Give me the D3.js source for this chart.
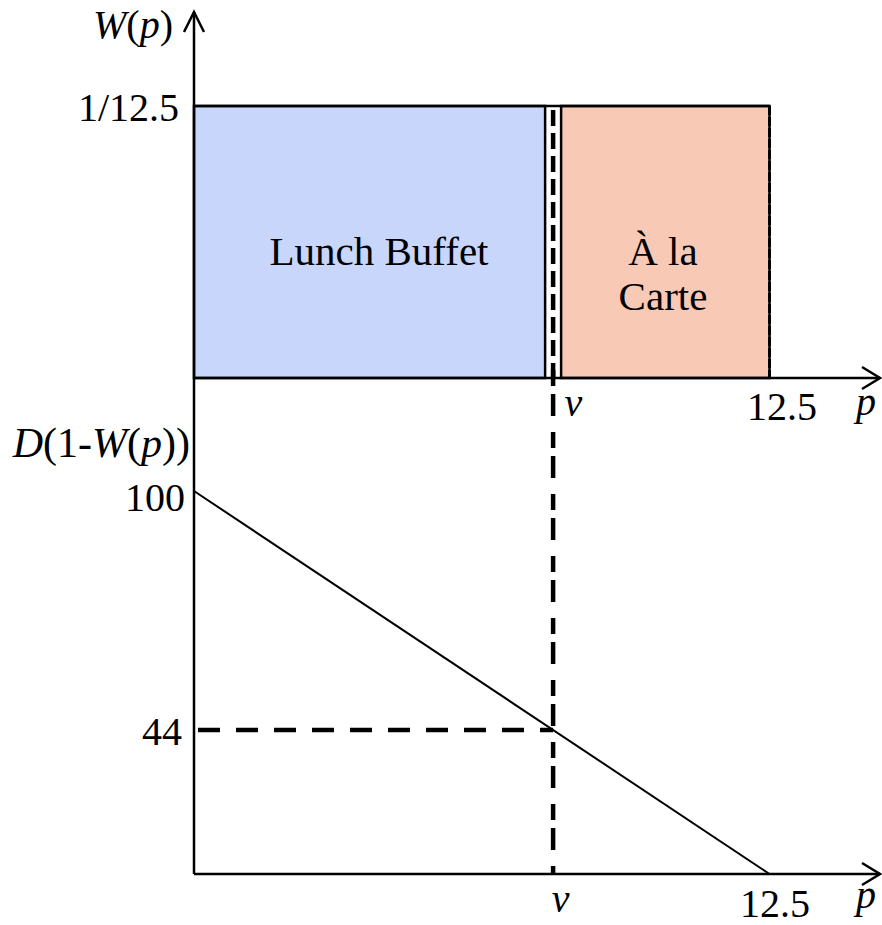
<!DOCTYPE html>
<html>
<head>
<meta charset="utf-8">
<script src="https://cdn.jsdelivr.net/npm/d3@7"></script>
<style>
  body { margin: 0; background: #ffffff; }
  svg text { font-family: 'Liberation Serif', 'Times New Roman', serif; fill: #000; }
</style>
</head>
<body>
<div id="chart"></div>
<script>
// data
var pMax = 12.5;
var vPos = 7.8;                       // where v sits on the p axis
var wMax = 1 / 12.5;
var demand = [[0, 100], [12.5, 0]];  // D(1-W(p))
var regions = [
    { name: ['Lunch Buffet'], from: 0, to: vPos, fill: '#c8d6fc' },
    { name: ['À la', 'Carte'], from: vPos, to: pMax, fill: '#f8c9b5' }
];
var topXTicks = [vPos, pMax];
var topXLabels = ['v', '12.5'];
var topYTicks = [wMax];
var topYLabels = ['1/12.5'];
var botXTicks = [vPos, pMax];
var botXLabels = ['v', '12.5'];
var botYTicks = [100, 100 * (1 - vPos / pMax)];
var botYLabels = ['100', '44'];

var _width = 882, _height = 925;
var _fontSize = 40;
var _gap = 8; // white gap each side of v in the top panel

var svg = d3.select('#chart').append('svg')
    .attr('width', _width)
    .attr('height', _height);

var x = d3.scaleLinear().domain([0, pMax]).range([194, 769.5]);
var yTop = d3.scaleLinear().domain([0, wMax]).range([378, 106]);
var yBot = d3.scaleLinear().domain([0, 100]).range([874, 491]);

function arrowUp(g, cx, top, bottom) {
    g.append('line').attr('x1', cx).attr('x2', cx).attr('y1', bottom).attr('y2', top)
        .attr('stroke', '#000').attr('stroke-width', 2.5);
    g.append('path')
        .attr('d', 'M' + (cx - 10) + ',' + (top + 20) + 'L' + cx + ',' + top + 'L' + (cx + 10) + ',' + (top + 20))
        .attr('fill', 'none').attr('stroke', '#000').attr('stroke-width', 2.5);
}
function arrowRight(g, cy, left, right) {
    g.append('line').attr('x1', left).attr('x2', right).attr('y1', cy).attr('y2', cy)
        .attr('stroke', '#000').attr('stroke-width', 2.5);
    g.append('path')
        .attr('d', 'M' + (right - 18) + ',' + (cy - 11) + 'L' + right + ',' + cy + 'L' + (right - 18) + ',' + (cy + 11))
        .attr('fill', 'none').attr('stroke', '#000').attr('stroke-width', 2.5);
}

// top panel regions
var gTop = svg.append('g');
regions.forEach(function (r, i) {
    var x0 = x(r.from) + (i === 0 ? 0 : _gap);
    var x1 = x(r.to) - (i === 0 ? _gap : 0);
    gTop.append('rect')
        .attr('x', x0)
        .attr('y', yTop(wMax))
        .attr('width', x1 - x0)
        .attr('height', yTop(0) - yTop(wMax))
        .attr('fill', r.fill)
        .attr('stroke', '#000')
        .attr('stroke-width', 2.5);
});
gTop.append('line')
    .attr('x1', x(0)).attr('x2', x(pMax))
    .attr('y1', yTop(wMax)).attr('y2', yTop(wMax))
    .attr('stroke', '#000').attr('stroke-width', 2.5);

// region labels
gTop.append('text')
    .attr('x', 379).attr('y', 265)
    .attr('text-anchor', 'middle')
    .attr('font-size', 41)
    .text(regions[0].name[0]);
gTop.append('text')
    .attr('x', 663).attr('y', 265)
    .attr('text-anchor', 'middle')
    .attr('font-size', 41)
    .text(regions[1].name[0]);
gTop.append('text')
    .attr('x', 663).attr('y', 310)
    .attr('text-anchor', 'middle')
    .attr('font-size', 41)
    .text(regions[1].name[1]);

// right edge of a la carte, dashed
gTop.append('line')
    .attr('x1', x(pMax)).attr('x2', x(pMax))
    .attr('y1', yTop(wMax)).attr('y2', yTop(0))
    .attr('stroke', '#000').attr('stroke-width', 3)
    .attr('stroke-dasharray', '9,2');

// dashed v line, top and bottom parts
svg.append('line')
    .attr('x1', x(vPos)).attr('x2', x(vPos))
    .attr('y1', yTop(wMax) + 4).attr('y2', yTop(0))
    .attr('stroke', '#000').attr('stroke-width', 4.5)
    .attr('stroke-dasharray', '16,7');
svg.append('line')
    .attr('x1', x(vPos)).attr('x2', x(vPos))
    .attr('y1', yTop(0) - 8).attr('y2', yBot(0))
    .attr('stroke', '#000').attr('stroke-width', 4.5)
    .attr('stroke-dasharray', '16,8,22,16');

// demand line
var line = d3.line().x(function (d) { return x(d[0]); }).y(function (d) { return yBot(d[1]); });
svg.append('path')
    .datum(demand)
    .attr('d', line)
    .attr('fill', 'none')
    .attr('stroke', '#000')
    .attr('stroke-width', 2);

// dashed line at 44
svg.append('line')
    .attr('x1', x(0) + 4).attr('x2', x(vPos))
    .attr('y1', yBot(botYTicks[1])).attr('y2', yBot(botYTicks[1]))
    .attr('stroke', '#000').attr('stroke-width', 4.5)
    .attr('stroke-dasharray', '22,16');

// axes lines with arrows
var gAx = svg.append('g');
arrowUp(gAx, x(0), 12, yBot(0));
arrowRight(gAx, yTop(0), x(0), 880);
arrowRight(gAx, yBot(0), x(0), 880);

// tick labels through d3 axes, no tick marks
function labelAxis(axis, transform, labels, tweak) {
    var g = svg.append('g')
        .attr('transform', transform)
        .call(axis.tickSize(0).tickFormat(function (d, i) { return labels[i]; }));
    g.select('.domain').remove();
    g.selectAll('text')
        .attr('font-size', _fontSize)
        .attr('font-family', null)
        .attr('fill', '#000')
        .each(tweak);
    return g;
}

labelAxis(d3.axisBottom(x).tickValues(topXTicks), 'translate(0,' + yTop(0) + ')', topXLabels,
    function (d, i) {
        var t = d3.select(this).attr('dy', null);
        if (i === 0) t.attr('x', 11).attr('y', 38).attr('text-anchor', 'start').attr('font-style', 'italic');
        else t.attr('x', 12).attr('y', 42);
    });
labelAxis(d3.axisBottom(x).tickValues(botXTicks), 'translate(0,' + yBot(0) + ')', botXLabels,
    function (d, i) {
        var t = d3.select(this).attr('dy', null);
        if (i === 0) t.attr('x', 7).attr('y', 38).attr('font-style', 'italic');
        else t.attr('x', 5).attr('y', 43);
    });
labelAxis(d3.axisLeft(yTop).tickValues(topYTicks), 'translate(' + x(0) + ',0)', topYLabels,
    function () {
        d3.select(this).attr('dy', null).attr('x', -15).attr('y', 14);
    });
labelAxis(d3.axisLeft(yBot).tickValues(botYTicks), 'translate(' + x(0) + ',0)', botYLabels,
    function (d, i) {
        d3.select(this).attr('dy', null).attr('x', i === 0 ? -9 : -12).attr('y', i === 0 ? 19 : 15);
    });

// axis titles
svg.append('text').attr('x', 856).attr('y', 415).attr('font-size', _fontSize)
    .attr('font-style', 'italic').text('p');
svg.append('text').attr('x', 856).attr('y', 908).attr('font-size', _fontSize)
    .attr('font-style', 'italic').text('p');

var wp = svg.append('text').attr('x', 173).attr('y', 38).attr('font-size', _fontSize)
    .attr('text-anchor', 'end');
wp.append('tspan').attr('font-style', 'italic').text('W');
wp.append('tspan').text('(');
wp.append('tspan').attr('font-style', 'italic').text('p');
wp.append('tspan').text(')');

var dw = svg.append('text').attr('x', 190).attr('y', 457).attr('font-size', 42)
    .attr('text-anchor', 'end');
dw.append('tspan').attr('font-style', 'italic').text('D');
dw.append('tspan').text('(1-');
dw.append('tspan').attr('font-style', 'italic').text('W');
dw.append('tspan').text('(');
dw.append('tspan').attr('font-style', 'italic').text('p');
dw.append('tspan').text('))');
</script>
</body>
</html>
